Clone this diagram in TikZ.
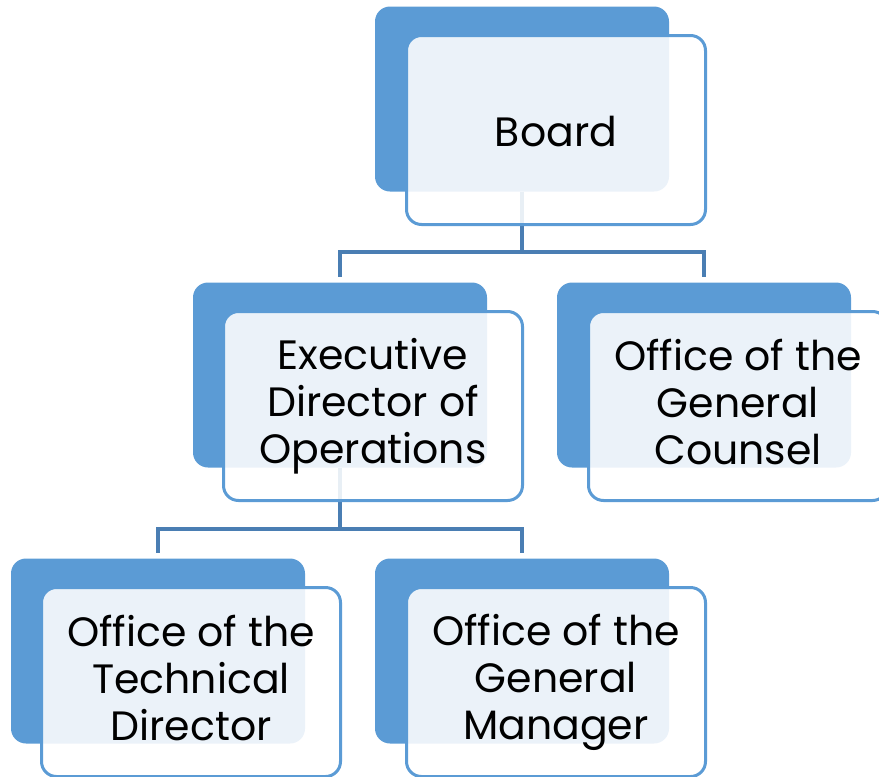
\documentclass[tikz,border=0pt]{standalone}
\usepackage{fontspec}
\setmainfont{Poppins}
\usepackage{xcolor}
\usetikzlibrary{positioning}
\definecolor{boxblue}{HTML}{5B9BD5}
\definecolor{linkblue}{HTML}{4A7EB3}

\begin{document}
\begin{tikzpicture}[x=1pt,y=-1pt,
    back/.style={rectangle, rounded corners=15pt, fill=boxblue, inner sep=0pt,
        minimum width=294pt, minimum height=185pt},
    front/.style={rectangle, rounded corners=15pt, draw=boxblue, line width=3pt,
        fill=white, fill opacity=0.88, text opacity=1, inner sep=0pt,
        minimum width=299pt, minimum height=189pt, align=center,
        font=\fontsize{41}{47}\selectfont,
        execute at begin node=\rule{0pt}{41pt},
        execute at end node=\rule[-9pt]{0pt}{9pt}},
    link/.style={draw=linkblue, line width=4pt}]
        \clip (0,0) rectangle (879,777);

        % Back panels
        \node[back] (board-back) at (522,99) {};
        \node[back] (exec-back) at (340,375) {};
        \node[back] (counsel-back) at (704,375) {};
        \node[back] (tech-back) at (158,651) {};
        \node[back] (manager-back) at (522,651) {};

        % Links
        \draw[link] (board-back.south) -- ++(0,60) -| ([yshift=5pt]exec-back.north);
        \draw[link] (board-back.south) -- ++(0,60) -| ([yshift=5pt]counsel-back.north);
        \draw[link] (exec-back.south) -- ++(0,61) -| ([yshift=5pt]tech-back.north);
        \draw[link] (exec-back.south) -- ++(0,61) -| ([yshift=5pt]manager-back.north);

        % Front panels
        \node[front] (board) at (556,130) {Board};
        \node[front] (exec) at (373,406) {Executive\\Director of\\Operations};
        \node[front] (counsel) at (738,406) {Office of the\\General\\Counsel};
        \node[front] (tech) at (191,682) {Office of the\\Technical\\Director};
        \node[front] (manager) at (556,682) {Office of the\\General\\Manager};

    \end{tikzpicture}
\end{document}
